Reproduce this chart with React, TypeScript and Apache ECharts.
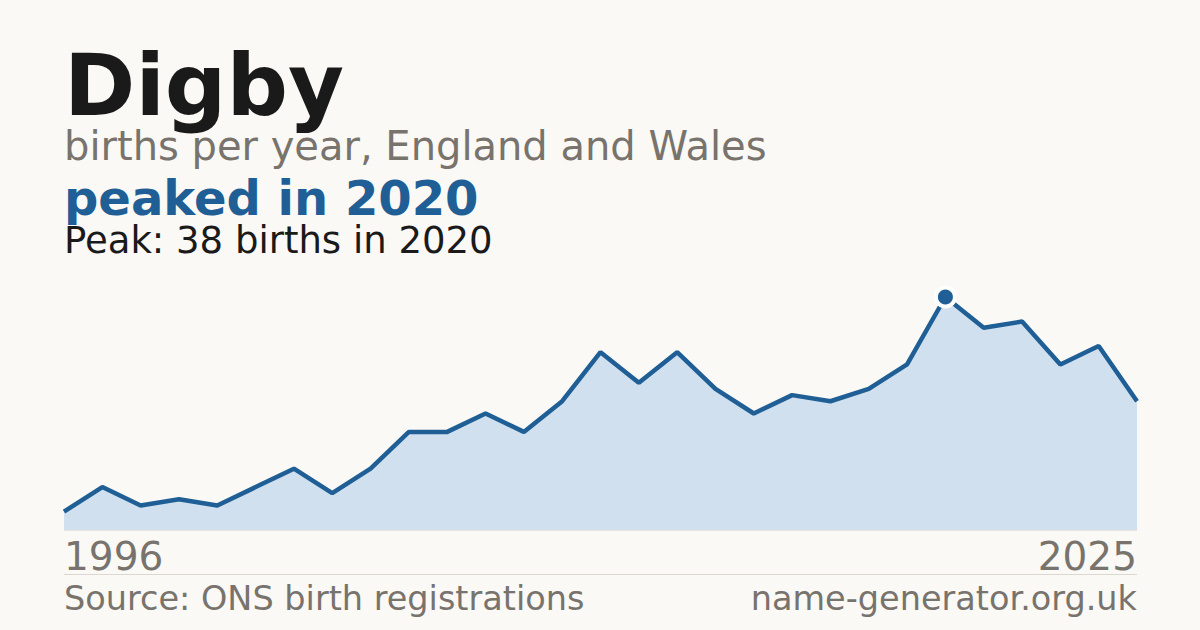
import { useEffect, useRef } from 'react';
import * as echarts from 'echarts';

// births per year for the name Digby (ONS)
const years = [
  '1996', '1998', '1999', '2000', '2001', '2002', '2003', '2004', '2005', '2006',
  '2007', '2008', '2009', '2010', '2011', '2012', '2013', '2014', '2015', '2016',
  '2017', '2018', '2019', '2020', '2021', '2022', '2023', '2024', '2025',
];
const births = [
  3, 7, 4, 5, 4, 7, 10, 6, 10, 16,
  16, 19, 16, 21, 29, 24, 29, 23, 19, 22,
  21, 23, 27, 38, 33, 34, 27, 30, 21,
];

const nameText = 'Digby';
const subtitleText = 'births per year, England and Wales';
const sourceText = 'Source: ONS birth registrations';
const siteText = 'name-generator.org.uk';

const FONT = '"DejaVu Sans", Verdana, sans-serif';
const BLUE = '#1f5f96';
const GREY = '#78736c';
const BG = '#faf9f5';

export default function App() {
  const chartRef = useRef<HTMLDivElement>(null);

  useEffect(() => {
    if (!chartRef.current) return;
    const chart = echarts.init(chartRef.current, undefined, { renderer: 'svg' });

    const peakIdx = births.indexOf(Math.max(...births));
    const peakYear = years[peakIdx];
    const peakValue = births[peakIdx];

    const option: echarts.EChartsOption = {
      animation: false,
      backgroundColor: BG,
      grid: { left: 64, right: 63, top: 297, bottom: 100 },
      xAxis: {
        type: 'category',
        data: years,
        boundaryGap: false,
        axisLine: { show: true, lineStyle: { color: '#ebe5db', width: 1 } },
        axisTick: { show: false },
        splitLine: { show: false },
        axisLabel: {
          interval: (index: number) => index === 0 || index === years.length - 1,
          alignMinLabel: 'left',
          alignMaxLabel: 'right',
          color: GREY,
          fontFamily: FONT,
          fontSize: 39,
          margin: 7,
        },
      },
      yAxis: {
        type: 'value',
        min: 0,
        max: 38,
        show: false,
      },
      series: [
        {
          type: 'line',
          data: births,
          symbol: 'none',
          lineStyle: { color: BLUE, width: 4.5 },
          areaStyle: { color: '#d0e0ef', opacity: 1 },
          z: 2,
        },
        {
          type: 'scatter',
          data: [[peakYear, peakValue]],
          symbol: 'circle',
          symbolSize: 19,
          itemStyle: { color: BLUE, borderColor: '#ffffff', borderWidth: 4, opacity: 1 },
          z: 3,
        },
      ],
      graphic: [
        {
          type: 'text',
          left: 64,
          top: 42,
          style: {
            text: nameText,
            fill: '#1a1a1a',
            font: `bold 86px ${FONT}`,
            lineHeight: 80,
          },
        },
        {
          type: 'text',
          left: 64,
          top: 125.7,
          style: {
            text: subtitleText,
            fill: GREY,
            font: `40px ${FONT}`,
            lineHeight: 40,
          },
        },
        {
          type: 'text',
          left: 64,
          top: 173.5,
          style: {
            text: `peaked in ${peakYear}`,
            fill: BLUE,
            font: `bold 48px ${FONT}`,
            lineHeight: 48,
          },
        },
        {
          type: 'text',
          left: 64,
          top: 221.7,
          style: {
            text: `Peak: ${peakValue} births in ${peakYear}`,
            fill: '#1a1a1a',
            font: `37px ${FONT}`,
            lineHeight: 37,
          },
        },
        {
          type: 'line',
          shape: { x1: 64, y1: 574.5, x2: 1137, y2: 574.5 },
          style: { stroke: '#dcd8d0', lineWidth: 1 },
        },
        {
          type: 'text',
          left: 64,
          top: 581.6,
          style: {
            text: sourceText,
            fill: GREY,
            font: `33.5px ${FONT}`,
            lineHeight: 33.5,
          },
        },
        {
          type: 'text',
          right: 63,
          top: 581.6,
          style: {
            text: siteText,
            fill: GREY,
            font: `33.5px ${FONT}`,
            lineHeight: 33.5,
          },
        },
      ],
    };

    chart.setOption(option);
    return () => {
      chart.dispose();
    };
  }, []);

  return (
    <div
      ref={chartRef}
      style={{ position: 'fixed', left: 0, top: 0, width: 1200, height: 630, background: BG }}
    />
  );
}
